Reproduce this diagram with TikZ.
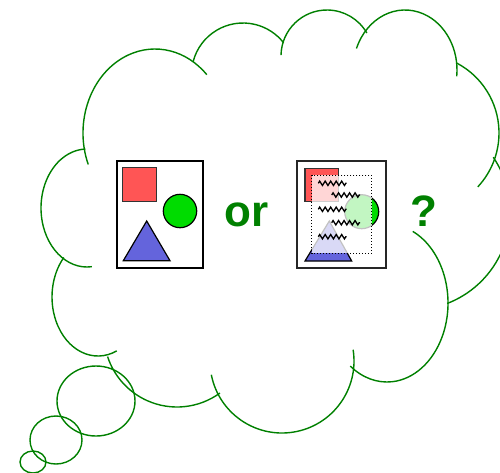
\documentclass[tikz,border=0pt]{standalone}
\usepackage{fontspec}
\setmainfont{Liberation Sans}
\usetikzlibrary{decorations.pathmorphing}
\definecolor{cloudgreen}{RGB}{0,128,0}
\definecolor{shred}{RGB}{255,85,85}
\definecolor{shgreen}{RGB}{0,220,0}
\definecolor{shblue}{RGB}{100,100,220}
\newcommand\cloudarc[6]{\draw[cloudline] ([shift={(#3:#5 and #6)}]#1,#2) arc[start angle=#3, end angle=#4, x radius=#5, y radius=#6];}
\begin{document}
\begin{tikzpicture}[x=1pt,y=-1pt,
  cloudline/.style={draw=cloudgreen, line width=1.4pt},
  frame/.style={draw=black, line width=1.8pt, fill=white},
  figshape/.style={draw=black, line width=1.2pt},
  wave/.style={draw=black, line width=1.3pt, decorate,
    decoration={zigzag, segment length=5.5pt, amplitude=2.2pt}},
  bigtxt/.style={text=cloudgreen, font=\fontsize{44}{44}\selectfont\bfseries, inner sep=0pt}]
\useasboundingbox (0,0) rectangle (500,472);
\clip (0,0) rectangle (500,472);
% cloud lobes
\cloudarc{155}{133}{158}{316}{72}{84}
\cloudarc{243}{74.5}{194}{322}{51.5}{51.5}
\cloudarc{327}{56}{181}{330}{46}{46}
\cloudarc{405}{70}{201}{366}{52}{60}
\cloudarc{420}{133}{298}{403}{79}{79}
\cloudarc{412}{212}{326}{429}{98}{98}
\cloudarc{387}{303}{295}{487}{61}{79}
\cloudarc{282}{361}{-9}{169}{72}{72}
\cloudarc{177}{334}{54}{162}{73}{73}
\cloudarc{98}{297}{66}{222}{46}{59}
\cloudarc{87}{208}{84}{268}{46}{59}
% thought bubbles
\draw[cloudline] (96,401) ellipse[x radius=39, y radius=35];
\draw[cloudline] (56,440) ellipse[x radius=26, y radius=24];
\draw[cloudline] (33,462) ellipse[x radius=13, y radius=11];
% left picture
\draw[frame] (116.7,161) rectangle (203.3,268.3);
\draw[figshape, fill=shred, draw=black!80] (122.7,167.7) rectangle (156.7,201.7);
\draw[figshape, fill=shgreen] (180,211) circle[radius=16.7];
\draw[figshape, fill=shblue] (146.7,221) -- (170,260.7) -- (123.3,260.7) -- cycle;
% or
\node[bigtxt, anchor=base west] (or) at (224,226.5) {or};
% right picture
\draw[frame, draw=black!85] (297.3,161) rectangle (385.7,268.3);
\draw[figshape, fill=shred, draw=black!80] (305,168.3) rectangle (338.3,201.7);
\draw[figshape, fill=shgreen] (361.7,211.7) circle[radius=17];
\draw[figshape, fill=shblue] (329.3,221) -- (351.7,261) -- (305,261) -- cycle;
\fill[white, fill opacity=0.76] (311.7,175) rectangle (371.7,253.3);
\draw[black, line width=1pt, dotted] (311.7,175) rectangle (371.7,253.3);
\draw[wave] (318.3,183.3) -- (346.7,183.3);
\draw[wave] (331.7,195) -- (360,195);
\draw[wave] (318.3,209.3) -- (346.7,209.3);
\draw[wave] (331.7,222.7) -- (360,222.7);
\draw[wave] (318.3,236.7) -- (346.7,236.7);
% ?
\node[bigtxt, anchor=base west] (q) at (410,226.5) {?};
\end{tikzpicture}
\end{document}
